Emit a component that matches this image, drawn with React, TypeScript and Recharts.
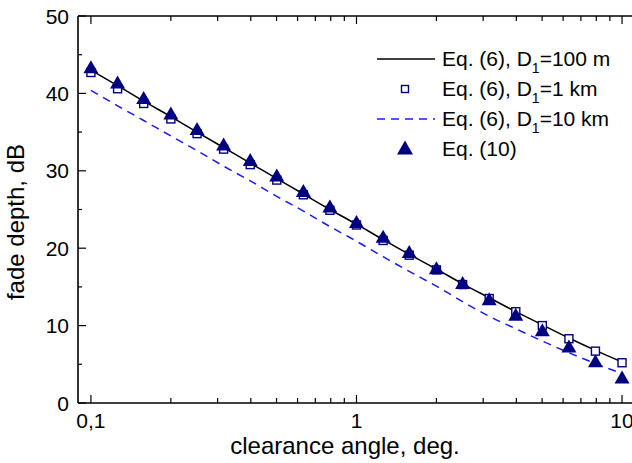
import { ComposedChart, Line, XAxis, YAxis, Legend } from "recharts"

// clearance angle (deg.) at 10 points per decade
const angle = [0.1, 0.126, 0.158, 0.2, 0.251, 0.316, 0.398, 0.501, 0.631, 0.794, 1, 1.26, 1.58, 2, 2.51, 3.16, 3.98, 5.01, 6.31, 7.94, 10]

// fade depth, dB
const eq6_100m = [43.0, 41.0, 39.0, 37.0, 35.0, 33.0, 31.0, 29.0, 27.0, 25.0, 23.1, 21.1, 19.2, 17.3, 15.4, 13.6, 11.8, 10.1, 8.4, 6.8, 5.3]
const eq6_1km = [42.7, 40.6, 38.7, 36.7, 34.8, 32.8, 30.8, 28.8, 26.9, 24.9, 23.0, 21.0, 19.1, 17.2, 15.3, 13.5, 11.8, 10.0, 8.3, 6.7, 5.2]
const eq6_10km = [40.4, 38.4, 36.5, 34.5, 32.6, 30.6, 28.7, 26.7, 24.8, 22.8, 20.9, 18.9, 17.0, 15.1, 13.1, 11.2, 9.6, 8.0, 6.5, 5.1, 3.8]
const eq10 = [43.2, 41.2, 39.2, 37.2, 35.2, 33.2, 31.2, 29.2, 27.2, 25.2, 23.2, 21.3, 19.3, 17.2, 15.3, 13.2, 11.2, 9.2, 7.1, 5.2, 3.1]

const xMajor = [0.1, 1, 10]
const xMinor = [0.2, 0.3, 0.4, 0.5, 0.6, 0.7, 0.8, 0.9, 2, 3, 4, 5, 6, 7, 8, 9]
const xLabels: Record<number, string> = { 0.1: "0,1", 1: "1", 10: "10" }
const yMajor = [0, 10, 20, 30, 40, 50]
const yMinor = [5, 15, 25, 35, 45]

const FONT = "'Liberation Sans', Arial, Helvetica, sans-serif"
const NAVY = "#000080"
const BLUE = "#1a1aff"

const data = angle.map((a, i) => ({
  angle: a,
  d100: eq6_100m[i],
  d1k: eq6_1km[i],
  d10k: eq6_10km[i],
  eq10: eq10[i],
}))

const xTicks = [...xMajor, ...xMinor].sort((a, b) => a - b)
const yTicks = [...yMajor, ...yMinor].sort((a, b) => a - b)

const BottomTick = ({ x, y, payload }: any) => {
  const major = xMajor.includes(payload.value)
  return (
    <g>
      <line x1={x} x2={x} y1={y} y2={y - (major ? 8 : 5)} stroke="#000" strokeWidth={1.2} />
      {major && (
        <text x={x} y={y + 25} textAnchor="middle" fontSize={21} fontFamily={FONT} fill="#000">
          {xLabels[payload.value]}
        </text>
      )}
    </g>
  )
}

const TopTick = ({ x, y, payload }: any) => {
  const major = xMajor.includes(payload.value)
  return <line x1={x} x2={x} y1={y} y2={y + (major ? 8 : 5)} stroke="#000" strokeWidth={1.2} />
}

const LeftTick = ({ x, y, payload }: any) => {
  const major = yMajor.includes(payload.value)
  return (
    <g>
      <line x1={x} x2={x + (major ? 8 : 4)} y1={y} y2={y} stroke="#000" strokeWidth={1.2} />
      {major && (
        <text x={x - 9} y={y + 7.5} textAnchor="end" fontSize={21} fontFamily={FONT} fill="#000">
          {payload.value}
        </text>
      )}
    </g>
  )
}

const RightTick = ({ x, y, payload }: any) => {
  const major = yMajor.includes(payload.value)
  return <line x1={x} x2={x - (major ? 8 : 4)} y1={y} y2={y} stroke="#000" strokeWidth={1.2} />
}

const Square = ({ cx, cy, index }: any) => (
  <rect key={`sq-${index}`} x={cx - 4} y={cy - 4} width={8} height={8} fill="#fff" stroke={NAVY} strokeWidth={1.4} />
)

const Triangle = ({ cx, cy, index }: any) => (
  <polygon key={`tr-${index}`} points={`${cx},${cy - 8.5} ${cx - 7.5},${cy + 4.5} ${cx + 7.5},${cy + 4.5}`} fill={NAVY} />
)

const XTitle = () => (
  <text x={345} y={454} textAnchor="middle" fontSize={24} fontFamily={FONT} fill="#000">
    clearance angle, deg.
  </text>
)

const YTitle = () => (
  <text transform="translate(24,222) rotate(-90)" textAnchor="middle" fontSize={24} fontFamily={FONT} fill="#000">
    fade depth, dB
  </text>
)

const legendRows = [
  { key: "d100", text: "=100 m", icon: "line" },
  { key: "d1k", text: "=1 km", icon: "square" },
  { key: "d10k", text: "=10 km", icon: "dash" },
  { key: "eq10", text: "", icon: "triangle" },
]

const LegendIcon = ({ kind }: { kind: string }) => (
  <svg width={72} height={30} style={{ display: "block" }}>
    {kind === "line" && <line x1={7} x2={65} y1={15} y2={15} stroke="#000" strokeWidth={1.5} />}
    {kind === "dash" && <line x1={7} x2={65} y1={15} y2={15} stroke={BLUE} strokeWidth={1.5} strokeDasharray="8 6" />}
    {kind === "square" && <rect x={31.5} y={11.5} width={7} height={7} fill="#fff" stroke={NAVY} strokeWidth={1.4} />}
    {kind === "triangle" && <polygon points="35,6.5 27,20.5 43,20.5" fill={NAVY} />}
  </svg>
)

const LegendContent = () => (
  <div style={{ fontFamily: FONT, fontSize: 21, color: "#000" }}>
    {legendRows.map((r) => (
      <div key={r.key} style={{ display: "flex", alignItems: "center", height: 30, whiteSpace: "nowrap" }}>
        <LegendIcon kind={r.icon} />
        {r.icon === "triangle" ? (
          <span>Eq. (10)</span>
        ) : (
          <span>
            Eq. (6), D<sub style={{ fontSize: 14, verticalAlign: "-7px", lineHeight: 0 }}>1</sub>
            {r.text}
          </span>
        )}
      </div>
    ))}
  </div>
)

export default function App() {
  return (
    <div style={{ position: "fixed", left: 0, top: 0, width: 632, height: 463, overflow: "hidden", background: "#fff" }}>
      <ComposedChart width={650} height={463} data={data} margin={{ top: 15, right: 14, bottom: 0, left: 0 }}>
        <XAxis
          xAxisId="bottom"
          dataKey="angle"
          type="number"
          scale="log"
          domain={[0.0894, 11.19]}
          allowDataOverflow
          ticks={xTicks}
          interval={0}
          height={60}
          tickSize={0}
          tickMargin={0}
          tickLine={false}
          tick={<BottomTick />}
          axisLine={{ stroke: "#000", strokeWidth: 1.6 }}
          label={<XTitle />}
        />
        <XAxis
          xAxisId="top"
          orientation="top"
          dataKey="angle"
          type="number"
          scale="log"
          domain={[0.0894, 11.19]}
          allowDataOverflow
          ticks={xTicks}
          interval={0}
          height={1}
          tickSize={0}
          tickMargin={0}
          tickLine={false}
          tick={<TopTick />}
          axisLine={{ stroke: "#000", strokeWidth: 1.6 }}
        />
        <YAxis
          yAxisId="left"
          type="number"
          domain={[0, 50]}
          ticks={yTicks}
          interval={0}
          width={78}
          tickSize={0}
          tickMargin={0}
          tickLine={false}
          tick={<LeftTick />}
          axisLine={{ stroke: "#000", strokeWidth: 1.6 }}
          label={<YTitle />}
        />
        <YAxis
          yAxisId="right"
          orientation="right"
          type="number"
          domain={[0, 50]}
          ticks={yTicks}
          interval={0}
          width={1}
          tickSize={0}
          tickMargin={0}
          tickLine={false}
          tick={<RightTick />}
          axisLine={{ stroke: "#000", strokeWidth: 1.6 }}
        />
        <Legend
          layout="vertical"
          align="center"
          verticalAlign="middle"
          content={<LegendContent />}
          wrapperStyle={{ left: 370, top: 44, width: 262, height: 120 }}
        />
        <Line xAxisId="bottom" yAxisId="left" dataKey="d100" type="monotone" stroke="#000" strokeWidth={1.5} dot={false} activeDot={false} isAnimationActive={false} />
        <Line xAxisId="bottom" yAxisId="left" dataKey="d1k" stroke="none" dot={<Square />} activeDot={false} isAnimationActive={false} />
        <Line xAxisId="bottom" yAxisId="left" dataKey="d10k" type="monotone" stroke={BLUE} strokeWidth={1.5} strokeDasharray="8 6" dot={false} activeDot={false} isAnimationActive={false} />
        <Line xAxisId="bottom" yAxisId="left" dataKey="eq10" stroke="none" dot={<Triangle />} activeDot={false} isAnimationActive={false} />
      </ComposedChart>
    </div>
  )
}
